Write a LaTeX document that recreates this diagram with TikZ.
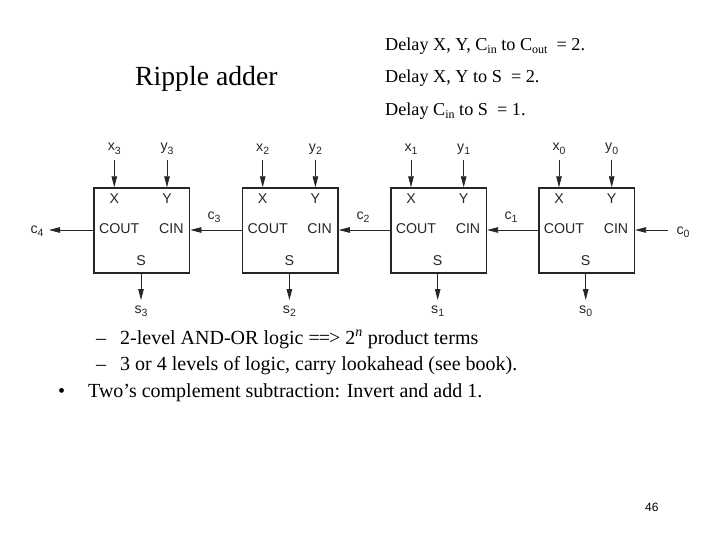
\documentclass[tikz,border=0pt]{standalone}
\usepackage{fontspec}
\setmainfont{Liberation Serif}
\newfontfamily\diagfont{Liberation Sans}
\usetikzlibrary{arrows.meta}
\tikzset{
  adderbox/.style={draw=black!85,line width=1.6pt,minimum width=95.5pt,minimum height=85pt,inner sep=0pt,anchor=north west},
  port/.style={font=\diagfont\fontsize{14.2}{16}\selectfont,inner sep=0pt,text=black!85},
  wire/.style={line width=0.8pt,draw=black!85,-{Triangle[length=11pt,width=5.5pt]}},
  slidetext/.style={inner sep=0pt,anchor=base west,font=\fontsize{20}{23}\selectfont},
  delaytext/.style={inner sep=0pt,anchor=base west,font=\fontsize{18.2}{21}\selectfont},
}
\newcommand{\lowin}[1]{\raisebox{-3pt}{\fontsize{12}{14}\selectfont #1}}
\newcommand{\sigsub}[2]{#1\raisebox{-3.5pt}{\fontsize{10.5}{12}\selectfont #2}}
\begin{document}
\begin{tikzpicture}[x=1pt,y=-1pt]
\useasboundingbox (0,0) rectangle (720,540);
\fill[white] (0,0) rectangle (720,540);
\node[slidetext,font=\fontsize{27.7}{30}\selectfont] (title) at (135,86) {Ripple adder};
\node[delaytext] (d1) at (385,51) {Delay X, Y, C\lowin{in} to C\lowin{out}\ \ = 2.};
\node[delaytext] (d2) at (385,83) {Delay X, Y to S\ \ = 2.};
\node[delaytext] (d3) at (385,116) {Delay C\lowin{in} to S\ \ = 1.};
\foreach \i/\bx/\nn in {a/93.3/3,b/241.7/2,c/390/1,d/538/0}{
  \node[adderbox] (box\i) at (\bx,187.3) {};
  \node[port] (px\i) at (\bx+21,198.5) {X};
  \node[port] (py\i) at (\bx+73.7,198.5) {Y};
  \node[port] (pco\i) at (\bx+26,228.7) {COUT};
  \node[port] (pci\i) at (\bx+78,228.7) {CIN};
  \node[port] (ps\i) at (\bx+47.7,260.5) {S};
  \coordinate (xt\i) at (\bx+21,160);
  \coordinate (yt\i) at (\bx+73.7,160);
  \coordinate (sb\i) at (\bx+47.7,300);
  \draw[wire] (xt\i) -- (xt\i |- box\i.north);
  \draw[wire] (yt\i) -- (yt\i |- box\i.north);
  \draw[wire] (sb\i |- box\i.south) -- (sb\i);
  \node[port] (lx\i) at (\bx+21,149) {\sigsub{x}{\nn}};
  \node[port] (ly\i) at (\bx+73.7,149) {\sigsub{y}{\nn}};
  \node[port] (ls\i) at (\bx+47.7,311) {\sigsub{s}{\nn}};
}
\coordinate (cfour) at (49,230);
\coordinate (czero) at (668,230);
\draw[wire] (boxa.west |- cfour) -- (cfour);
\draw[wire] (boxb.west |- cfour) -- (boxa.east |- cfour);
\draw[wire] (boxc.west |- cfour) -- (boxb.east |- cfour);
\draw[wire] (boxd.west |- cfour) -- (boxc.east |- cfour);
\draw[wire] (czero) -- (boxd.east |- czero);
\node[port] (c4) at (37,231) {\sigsub{c}{4}};
\node[port] (c3) at (214,217) {\sigsub{c}{3}};
\node[port] (c2) at (363,217) {\sigsub{c}{2}};
\node[port] (c1) at (511,217) {\sigsub{c}{1}};
\node[port] (c0) at (683,232) {\sigsub{c}{0}};
\node[slidetext] (b1) at (96,344) {–};
\node[slidetext] (t1) at (120,344) {2-level AND-OR logic =\kern-1pt=\kern-1pt> 2\textsuperscript{\textit{n}} product terms};
\node[slidetext] (b2) at (96,370) {–};
\node[slidetext] (t2) at (120,370) {3 or 4 levels of logic, carry lookahead (see book).};
\node[slidetext] (b3) at (58,397) {•};
\node[slidetext] (t3) at (88,397) {Two’s complement subtraction: Invert and add 1.};
\node[slidetext,font=\diagfont\fontsize{12}{14}\selectfont] (pg) at (645,511) {46};
\end{tikzpicture}
\end{document}
